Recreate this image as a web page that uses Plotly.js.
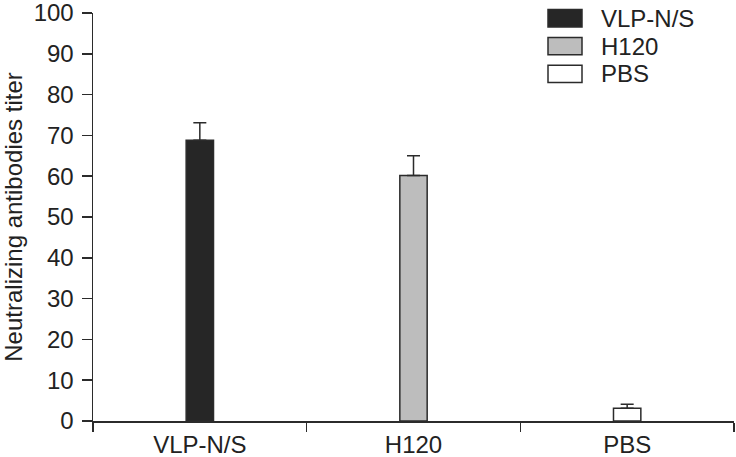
<!DOCTYPE html>
<html>
<head>
<meta charset="utf-8">
<script src="https://cdn.plot.ly/plotly-3.0.1.min.js"></script>
<style>
  body { margin: 0; background: #fff; }
  #chart { width: 736px; height: 457px; }
</style>
</head>
<body>
<div id="chart"></div>
<script>
const groups = ['VLP-N/S', 'H120', 'PBS'];
const titers = [68.8, 60.2, 3.1];
const errorsUp = [4.3, 4.8, 1.0];
const fillColors = ['#262626', '#bdbdbd', '#ffffff'];
const yTicks = [0, 10, 20, 30, 40, 50, 60, 70, 80, 90, 100];

const W = 736, H = 457;
const margin = {l: 93, r: 2, t: 13, b: 36};
const plotW = W - margin.l - margin.r;
const plotH = H - margin.t - margin.b;
const ink = '#2b2b2b';
const font = {family: 'Liberation Sans, Arial, sans-serif', size: 24, color: '#222'};

// one trace per group so each gets its own colour
const traces = groups.map((g, i) => ({
    type: 'bar',
    name: g,
    x: [g],
    y: [titers[i]],
    width: 0.128,
    marker: {color: fillColors[i], line: {color: ink, width: 1.5}},
    error_y: {
        type: 'data',
        symmetric: false,
        array: [errorsUp[i]],
        arrayminus: [0],
        color: ink,
        thickness: 1.5,
        width: 6.5
    },
    showlegend: false
}));

// hand drawn legend (big swatches like the original figure)
const px2x = px => (px - margin.l) / plotW;
const py2y = py => (H - margin.b - py) / plotH;
const shapes = [];
const annotations = [];
groups.forEach((g, i) => {
    const cy = 18.3 + i * 27.8;
    shapes.push({
        type: 'rect', xref: 'paper', yref: 'paper',
        x0: px2x(548), x1: px2x(582),
        y0: py2y(cy + 8.7), y1: py2y(cy - 8.7),
        fillcolor: fillColors[i],
        line: {color: ink, width: 1.5}
    });
    annotations.push({
        xref: 'paper', yref: 'paper',
        x: px2x(599), y: py2y(cy),
        xanchor: 'left', yanchor: 'middle',
        text: g, showarrow: false, font: font
    });
});

const layout = {
    width: W,
    height: H,
    margin: margin,
    paper_bgcolor: '#fff',
    plot_bgcolor: '#fff',
    font: font,
    showlegend: false,
    xaxis: {
        type: 'category',
        range: [-0.5, 2.5],
        tickson: 'boundaries',
        ticks: 'outside',
        ticklen: 9,
        tickwidth: 1.5,
        tickcolor: ink,
        showline: true,
        linecolor: ink,
        linewidth: 1.5,
        showgrid: false,
        zeroline: false,
        tickfont: font,
        ticklabelstandoff: 2
    },
    yaxis: {
        range: [0, 100],
        tickmode: 'array',
        tickvals: yTicks,
        ticks: 'outside',
        ticklen: 10,
        tickwidth: 1.5,
        tickcolor: ink,
        showline: true,
        linecolor: ink,
        linewidth: 1.5,
        showgrid: false,
        zeroline: false,
        tickfont: font,
        ticklabelstandoff: 3,
        ticklabeloverflow: 'allow',
        title: {text: 'Neutralizing antibodies titer', font: font, standoff: 10}
    },
    shapes: shapes,
    annotations: annotations
};

Plotly.newPlot('chart', traces, layout, {staticPlot: true, displayModeBar: false});
</script>
</body>
</html>
